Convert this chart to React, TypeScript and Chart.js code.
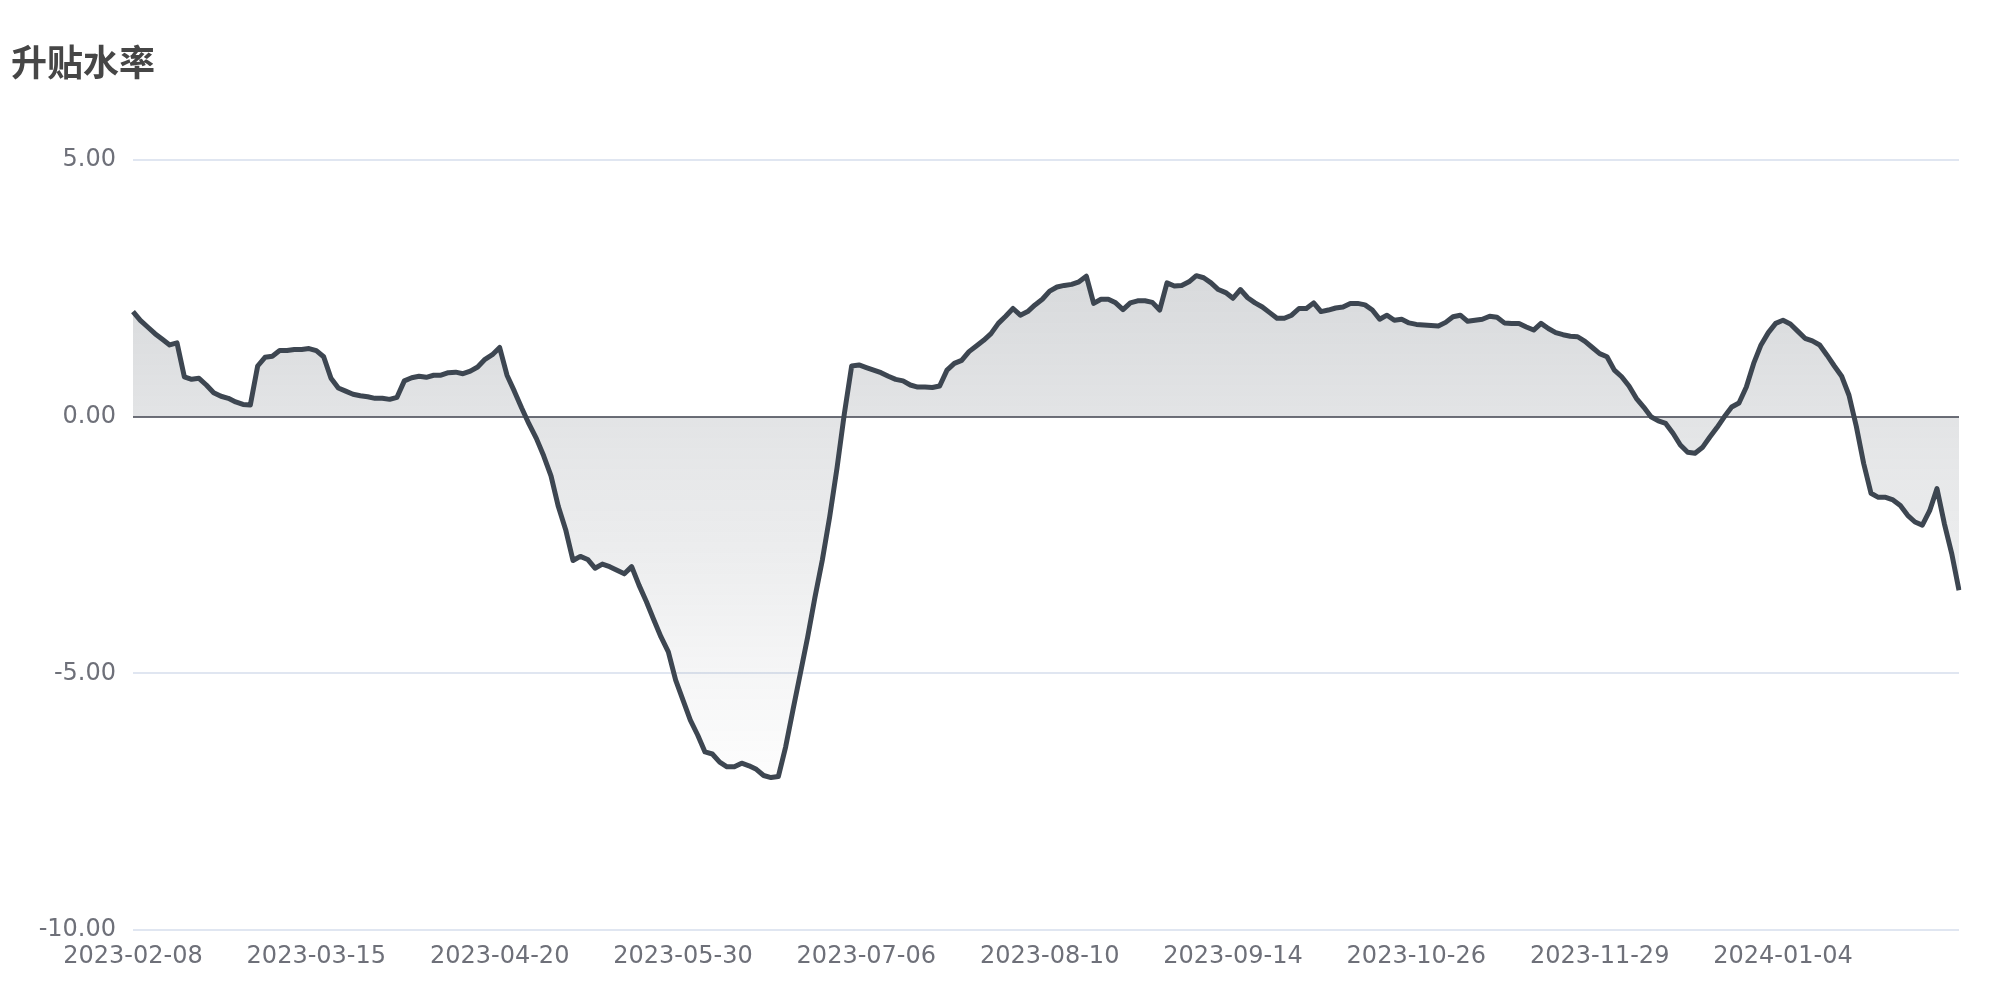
import React, { useEffect, useRef } from "react";
import { Chart, registerables } from "chart.js";

Chart.register(...registerables);

const TITLE = "升贴水率";
const START_DATE = "2023-02-08";
const END_DATE = "2024-02-07";
const HOLIDAYS = [
  "2023-04-05", "2023-05-01", "2023-05-02", "2023-05-03", "2023-06-22", "2023-06-23",
  "2023-09-29", "2023-10-02", "2023-10-03", "2023-10-04", "2023-10-05", "2023-10-06",
  "2024-01-01",
];
const EXTRA_TRADING_DAYS = ["2023-10-07", "2023-11-11"];
const LABEL_INTERVAL = 25;
const Y_MIN = -10;
const Y_MAX = 5;
const Y_STEP = 5;

const BASIS_RATE = [
  2.05, 1.88, 1.75, 1.62, 1.51, 1.40, 1.44, 0.78, 0.73, 0.75,
  0.62, 0.47, 0.40, 0.36, 0.29, 0.24, 0.23, 0.99, 1.16, 1.18,
  1.29, 1.29, 1.31, 1.31, 1.33, 1.29, 1.17, 0.75, 0.56, 0.50,
  0.44, 0.41, 0.39, 0.36, 0.36, 0.34, 0.38, 0.70, 0.76, 0.79,
  0.77, 0.81, 0.81, 0.86, 0.87, 0.84, 0.89, 0.97, 1.12, 1.21,
  1.35, 0.81, 0.50, 0.17, -0.14, -0.42, -0.76, -1.15, -1.75, -2.20,
  -2.80, -2.72, -2.78, -2.95, -2.87, -2.92, -2.99, -3.06, -2.92, -3.28,
  -3.60, -3.95, -4.29, -4.58, -5.13, -5.52, -5.91, -6.20, -6.53, -6.57,
  -6.73, -6.82, -6.82, -6.75, -6.80, -6.87, -6.99, -7.03, -7.01, -6.43,
  -5.71, -5.00, -4.29, -3.51, -2.79, -1.95, -1.00, 0.06, 0.99, 1.01,
  0.96, 0.91, 0.86, 0.79, 0.73, 0.70, 0.62, 0.58, 0.58, 0.57,
  0.60, 0.91, 1.04, 1.10, 1.27, 1.38, 1.49, 1.62, 1.82, 1.96,
  2.11, 1.98, 2.05, 2.18, 2.29, 2.45, 2.53, 2.56, 2.58, 2.63,
  2.74, 2.21, 2.29, 2.29, 2.22, 2.09, 2.22, 2.26, 2.26, 2.23,
  2.08, 2.61, 2.55, 2.56, 2.63, 2.75, 2.71, 2.61, 2.48, 2.42,
  2.31, 2.48, 2.32, 2.22, 2.14, 2.03, 1.92, 1.92, 1.98, 2.11,
  2.11, 2.22, 2.05, 2.08, 2.12, 2.14, 2.21, 2.21, 2.18, 2.08,
  1.90, 1.98, 1.88, 1.90, 1.83, 1.80, 1.79, 1.78, 1.77, 1.84,
  1.95, 1.98, 1.86, 1.88, 1.90, 1.96, 1.94, 1.83, 1.82, 1.82,
  1.75, 1.69, 1.82, 1.72, 1.64, 1.60, 1.57, 1.56, 1.47, 1.35,
  1.23, 1.17, 0.91, 0.78, 0.60, 0.36, 0.19, 0.00, -0.08, -0.13,
  -0.32, -0.55, -0.69, -0.71, -0.60, -0.40, -0.21, 0.00, 0.19, 0.27,
  0.58, 1.04, 1.40, 1.64, 1.82, 1.88, 1.81, 1.67, 1.53, 1.48,
  1.40, 1.20, 0.99, 0.79, 0.42, -0.19, -0.91, -1.49, -1.57, -1.57,
  -1.62, -1.73, -1.92, -2.05, -2.11, -1.83, -1.40, -2.08, -2.66, -3.38,
];

function buildTradingDays(): string[] {
  const out: string[] = [];
  const d = new Date(START_DATE + "T00:00:00Z");
  const end = new Date(END_DATE + "T00:00:00Z");
  while (d <= end) {
    const s = d.toISOString().slice(0, 10);
    const wd = d.getUTCDay();
    const isWeekday = wd !== 0 && wd !== 6;
    if ((isWeekday && !HOLIDAYS.includes(s)) || EXTRA_TRADING_DAYS.includes(s)) out.push(s);
    d.setUTCDate(d.getUTCDate() + 1);
  }
  return out;
}

const DATES = buildTradingDays();

export default function App() {
  const canvasRef = useRef<HTMLCanvasElement | null>(null);

  useEffect(() => {
    const canvas = canvasRef.current;
    if (!canvas) return;
    Chart.defaults.font.family = "'DejaVu Sans', sans-serif";
    const maxV = Math.max(...BASIS_RATE);
    const minV = Math.min(...BASIS_RATE);

    const chart = new Chart(canvas, {
      type: "line",
      data: {
        labels: DATES,
        datasets: [
          {
            label: TITLE,
            data: BASIS_RATE,
            borderColor: "#3d4651",
            borderWidth: 5,
            borderJoinStyle: "round",
            borderCapStyle: "butt",
            pointRadius: 0,
            pointHoverRadius: 0,
            tension: 0,
            fill: "origin",
            backgroundColor: (ctx: any) => {
              const { chart: ch } = ctx;
              const area = ch.chartArea;
              if (!area) return "rgba(61,70,81,0.15)";
              const ys = ch.scales.y;
              const top = ys.getPixelForValue(maxV);
              const bottom = ys.getPixelForValue(minV);
              const g = ch.ctx.createLinearGradient(0, top, 0, bottom);
              g.addColorStop(0, "rgba(61,70,81,0.2)");
              g.addColorStop(1, "rgba(61,70,81,0.01)");
              return g;
            },
          },
        ],
      },
      options: {
        animation: false,
        responsive: false,
        devicePixelRatio: 1,
        layout: { padding: { left: 11, right: 41, top: 0, bottom: 0 } },
        plugins: {
          legend: { display: false },
          tooltip: { enabled: false },
          title: {
            display: true,
            text: TITLE,
            align: "start",
            color: "#464646",
            font: {
              family: "'Noto Sans CJK SC', 'DejaVu Sans', sans-serif",
              size: 36,
              weight: "bold",
              lineHeight: 1.2,
            },
            padding: { top: 41, bottom: 76 },
          },
        },
        scales: {
          x: {
            type: "category",
            border: { display: false },
            grid: { display: false, drawTicks: false },
            afterFit: (s: any) => {
              s.height = 70;
            },
            ticks: {
              autoSkip: false,
              maxRotation: 0,
              minRotation: 0,
              padding: 12,
              color: "#6E7079",
              font: { size: 24 },
              callback: (_v: any, i: number) => (i % LABEL_INTERVAL === 0 ? DATES[i] : null),
            },
          },
          y: {
            min: Y_MIN,
            max: Y_MAX,
            border: { display: false },
            afterFit: (s: any) => {
              s.width = 122;
            },
            grid: {
              drawTicks: false,
              lineWidth: 2,
              color: (ctx: any) => (ctx.tick && ctx.tick.value === 0 ? "#6E7079" : "#E0E6F1"),
            },
            ticks: {
              stepSize: Y_STEP,
              padding: 17,
              color: "#6E7079",
              font: { size: 24 },
              callback: (v: any) => Number(v).toFixed(2),
            },
          },
        },
      },
    });
    return () => chart.destroy();
  }, []);

  return (
    <div style={{ position: "fixed", left: 0, top: 0, width: 2000, height: 1000, background: "#fff" }}>
      <canvas ref={canvasRef} width={2000} height={1000} style={{ display: "block", width: 2000, height: 1000 }} />
    </div>
  );
}
